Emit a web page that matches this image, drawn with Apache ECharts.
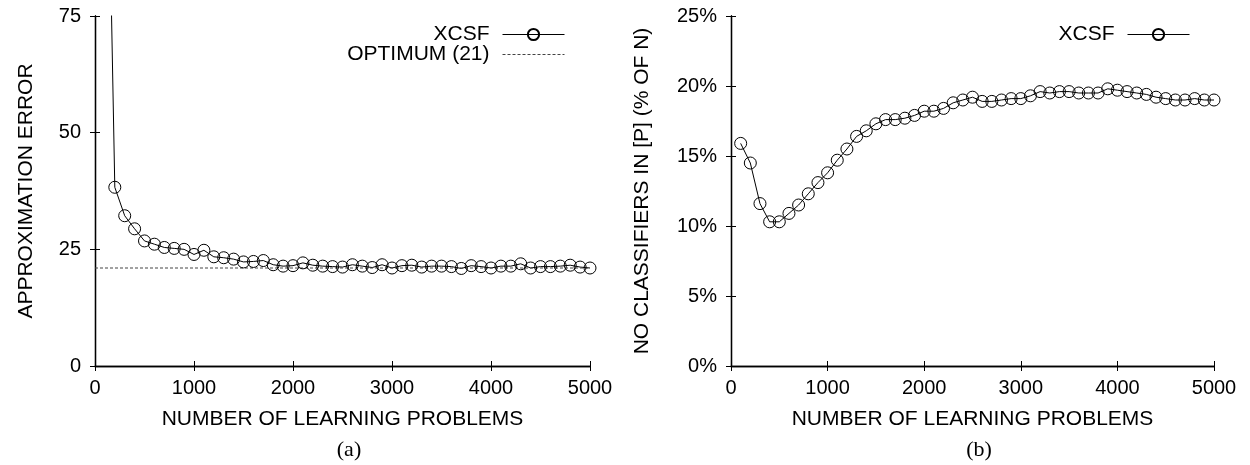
<!DOCTYPE html>
<html>
<head>
<meta charset="utf-8">
<script src="https://cdn.jsdelivr.net/npm/echarts@6/dist/echarts.min.js"></script>
<style>
  html, body { margin: 0; padding: 0; background: #fff; }
  #chart { width: 1250px; height: 465px; }
</style>
</head>
<body>
<div id="chart"></div>
<script>
// learning problems (x), same for both plots
const problems = [100, 200, 300, 400, 500, 600, 700, 800, 900, 1000,
  1100, 1200, 1300, 1400, 1500, 1600, 1700, 1800, 1900, 2000,
  2100, 2200, 2300, 2400, 2500, 2600, 2700, 2800, 2900, 3000,
  3100, 3200, 3300, 3400, 3500, 3600, 3700, 3800, 3900, 4000,
  4100, 4200, 4300, 4400, 4500, 4600, 4700, 4800, 4900, 5000];

// (a) approximation error, first point is off the top of the plot
const approxError = [150, 38.3, 32.2, 29.4, 26.8, 26.1, 25.4, 25.2, 25.0, 23.9,
  24.8, 23.4, 23.2, 22.9, 22.3, 22.4, 22.6, 21.7, 21.4, 21.5,
  22.1, 21.6, 21.4, 21.3, 21.2, 21.7, 21.4, 21.1, 21.7, 21.0,
  21.5, 21.6, 21.2, 21.4, 21.4, 21.3, 20.9, 21.5, 21.3, 21.0,
  21.4, 21.4, 21.9, 21.0, 21.3, 21.3, 21.4, 21.6, 21.2, 21.0];

const optimum = 21;
const optimumRange = [0, 5000];

// (b) number of classifiers in [P], % of N
const classifiers = [15.9, 14.5, 11.6, 10.3, 10.3, 10.9, 11.5, 12.3, 13.1, 13.8,
  14.7, 15.5, 16.4, 16.8, 17.3, 17.6, 17.6, 17.7, 17.9, 18.2,
  18.2, 18.4, 18.8, 19.0, 19.2, 18.9, 18.9, 19.0, 19.1, 19.1,
  19.3, 19.6, 19.5, 19.6, 19.6, 19.5, 19.5, 19.5, 19.8, 19.7,
  19.6, 19.5, 19.4, 19.2, 19.1, 19.0, 19.0, 19.1, 19.0, 19.0];

const xTitle = "NUMBER OF LEARNING PROBLEMS";
const yTitleA = "APPROXIMATION ERROR";
const yTitleB = "NO CLASSIFIERS IN [P] (% OF N)";

const font = "Liberation Sans";
const fs = 20;
const titleFs = 21;
const black = "#000";

const line = { show: true, lineStyle: { color: black, width: 1.3 } };
const tick = { show: true, inside: true, length: 5, lineStyle: { color: black, width: 1 } };

function xAxisFor(grid, bottom) {
  return {
    type: "value", gridIndex: grid, position: bottom ? "bottom" : "top",
    min: 0, max: 5000, interval: 1000,
    axisLine: line, axisTick: tick, splitLine: { show: false },
    axisLabel: bottom ? { show: true, margin: 12, color: black, fontFamily: font, fontSize: fs, formatter: v => String(v) } : { show: false },
    name: bottom ? xTitle : "", nameLocation: "middle", nameGap: 43,
    nameTextStyle: { color: black, fontFamily: font, fontSize: titleFs }
  };
}

function yAxisFor(grid, left, max, interval, fmt, title, gap) {
  return {
    type: "value", gridIndex: grid, position: left ? "left" : "right",
    min: 0, max: max, interval: interval,
    axisLine: line, axisTick: tick, splitLine: { show: false },
    axisLabel: left ? { show: true, margin: 14, color: black, fontFamily: font, fontSize: fs, formatter: fmt } : { show: false },
    name: left ? title : "", nameLocation: "middle", nameGap: gap,
    nameTextStyle: { color: black, fontFamily: font, fontSize: titleFs }
  };
}

const legendText = { color: black, fontFamily: font, fontSize: titleFs, padding: [0, 8, 0, 0] };

function legendAt(names, right, top) {
  return {
    data: names, orient: "horizontal", align: "right", right: right, top: top,
    padding: 0, itemWidth: 62, itemHeight: 14, itemGap: 0, selectedMode: false,
    lineStyle: { width: 1 },
    textStyle: legendText
  };
}

// hollow markers, the line shows through them like in gnuplot
const marker = { color: "transparent", borderColor: black, borderWidth: 1 };

const chart = echarts.init(document.getElementById("chart"));

chart.setOption({
  animation: false,
  backgroundColor: "#fff",
  grid: [
    { left: 95, top: 16, width: 495, height: 350 },
    { left: 731, top: 16, width: 483, height: 350 }
  ],
  title: [
    { text: "(a)", left: 344, top: 434, textAlign: "center",
      textStyle: { color: black, fontFamily: "Liberation Serif", fontSize: 22, fontWeight: "normal" } },
    { text: "(b)", left: 974, top: 434, textAlign: "center",
      textStyle: { color: black, fontFamily: "Liberation Serif", fontSize: 22, fontWeight: "normal" } }
  ],
  legend: [
    legendAt(["XCSF"], 685, 24),
    legendAt([{ name: "OPTIMUM (21)", itemStyle: { opacity: 0 } }], 685, 44),
    legendAt(["XCSF"], 60, 24)
  ],
  xAxis: [xAxisFor(0, true), xAxisFor(0, false), xAxisFor(1, true), xAxisFor(1, false)],
  yAxis: [
    yAxisFor(0, true, 75, 25, "{value}", yTitleA, 58),
    yAxisFor(0, false, 75, 25),
    yAxisFor(1, true, 25, 5, "{value}%", yTitleB, 78),
    yAxisFor(1, false, 25, 5)
  ],
  series: [
    {
      name: "XCSF", type: "line", xAxisIndex: 0, yAxisIndex: 0,
      data: problems.map((p, i) => [p, approxError[i]]),
      symbol: "circle", symbolSize: 12, clip: true,
      lineStyle: { color: black, width: 1 },
      itemStyle: marker
    },
    {
      name: "OPTIMUM (21)", type: "line", xAxisIndex: 0, yAxisIndex: 0,
      data: optimumRange.map(x => [x, optimum]),
      symbol: "none",
      lineStyle: { color: "#444", width: 1, type: [3, 2] },
      itemStyle: { color: "#444" }
    },
    {
      name: "XCSF", type: "line", xAxisIndex: 2, yAxisIndex: 2,
      data: problems.map((p, i) => [p, classifiers[i]]),
      symbol: "circle", symbolSize: 12, clip: true,
      lineStyle: { color: black, width: 1 },
      itemStyle: marker
    }
  ]
});
</script>
</body>
</html>
